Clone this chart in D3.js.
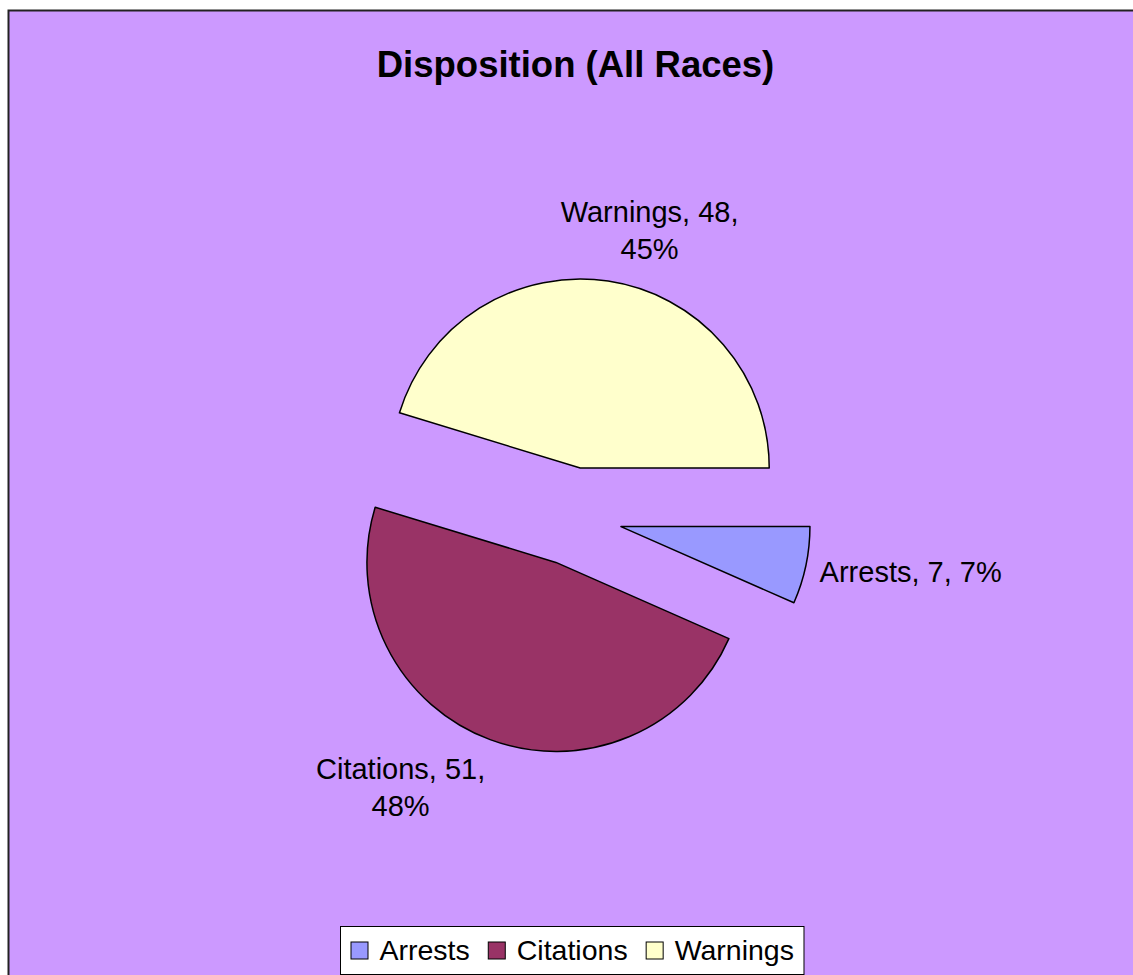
<!DOCTYPE html>
<html>
<head>
<meta charset="utf-8">
<script src="https://cdn.jsdelivr.net/npm/d3@7"></script>
<style>
  body { margin: 0; background: #ffffff; }
  text { font-family: Arial, "Liberation Sans", sans-serif; fill: #000; }
</style>
</head>
<body>
<div id="chart"></div>
<script>
// data
var categories = ["Arrests", "Citations", "Warnings"];
var counts = [7, 51, 48];
var colors = ["#9999FF", "#993366", "#FFFFCC"];
var title = "Disposition (All Races)";

var svgWidth = 1133;
var svgHeight = 975;

var svg = d3.select("#chart")
  .append("svg")
  .attr("width", svgWidth)
  .attr("height", svgHeight);

// chart area
svg.append("rect")
  .attr("x", 8.5)
  .attr("y", 10.5)
  .attr("width", 1200)
  .attr("height", 1100)
  .attr("fill", "#CC99FF")
  .attr("stroke", "#222")
  .attr("stroke-width", 2);

svg.append("text")
  .attr("x", 575.5)
  .attr("y", 77)
  .attr("text-anchor", "middle")
  .style("font-size", "36.5px")
  .style("font-weight", "bold")
  .text(title);

// pie layout, first slice starts at 3 o'clock
var cx = 573, cy = 516.5;
var radius = 189;
var explode = 49;
var labelGap = 14;
var lineHeight = 37;
var total = d3.sum(counts);
var pct = d3.format(".0%");

var data = categories.map(function(c, i) {
  return { name: c, value: counts[i], color: colors[i] };
});

var pie = d3.pie()
  .sort(null)
  .value(d => d.value)
  .startAngle(Math.PI / 2)
  .endAngle(Math.PI / 2 + 2 * Math.PI);

var arc = d3.arc()
  .innerRadius(0)
  .outerRadius(radius);

var arcs = pie(data);

var pieGroup = svg.append("g")
  .attr("transform", `translate(${cx}, ${cy})`);

arcs.forEach(function(d) {
  var mid = (d.startAngle + d.endAngle) / 2;
  d.dir = [Math.sin(mid), -Math.cos(mid)];
  d.off = [d.dir[0] * explode, d.dir[1] * explode];
});

pieGroup.selectAll("path")
  .data(arcs)
  .enter()
  .append("path")
  .attr("d", arc)
  .attr("transform", d => `translate(${d.off[0]}, ${d.off[1]})`)
  .attr("fill", d => d.data.color)
  .attr("stroke", "#000")
  .attr("stroke-width", 1.5)
  .attr("stroke-linejoin", "round");

// data labels
var clamp = v => Math.max(-1, Math.min(1, v));

arcs.forEach(function(d) {
  var full = d.data.name + ", " + d.data.value + ", " + pct(d.data.value / total);
  var lines = Math.abs(d.dir[0]) > 0.9 ? [full] :
    [d.data.name + ", " + d.data.value + ",", pct(d.data.value / total)];

  var g = pieGroup.append("g");
  var texts = g.selectAll("text")
    .data(lines)
    .enter()
    .append("text")
    .attr("text-anchor", "middle")
    .style("font-size", "29px")
    .text(t => t);

  var w = d3.max(texts.nodes(), n => n.getComputedTextLength());
  var h = lines.length * lineHeight;
  var px = d.off[0] + d.dir[0] * (radius + labelGap);
  var py = d.off[1] + d.dir[1] * (radius + labelGap);
  var bx = px + clamp(3 * d.dir[0]) * w / 2;
  var by = py + clamp(d.dir[1]) * h / 2;

  texts
    .attr("x", bx)
    .attr("y", (t, i) => by + (i - (lines.length - 1) / 2) * lineHeight + 10);
});

// legend
var legendTop = 926.5;
var legendH = 48;
var legend = svg.append("g");
var legendBox = legend.append("rect")
  .attr("y", legendTop)
  .attr("height", legendH)
  .attr("fill", "#fff")
  .attr("stroke", "#000")
  .attr("stroke-width", 1);

var xpos = 0;
var items = legend.selectAll("g.item")
  .data(data)
  .enter()
  .append("g")
  .attr("class", "item");

items.each(function(d) {
  var item = d3.select(this);
  item.append("rect")
    .attr("x", xpos + 0.5)
    .attr("y", legendTop + 15.5)
    .attr("width", 17)
    .attr("height", 17)
    .attr("fill", d.color)
    .attr("stroke", "#000")
    .attr("stroke-width", 1);
  var t = item.append("text")
    .attr("x", xpos + 29)
    .attr("y", legendTop + 33.5)
    .style("font-size", "28.5px")
    .text(d.name);
  xpos += 29 + t.node().getComputedTextLength() + 18;
});

var legendW = xpos - 18 + 20;
var legendX = Math.round(572 - legendW / 2) + 0.5;
legendBox.attr("x", legendX).attr("width", legendW);
items.attr("transform", `translate(${legendX + 10}, 0)`);
</script>
</body>
</html>
